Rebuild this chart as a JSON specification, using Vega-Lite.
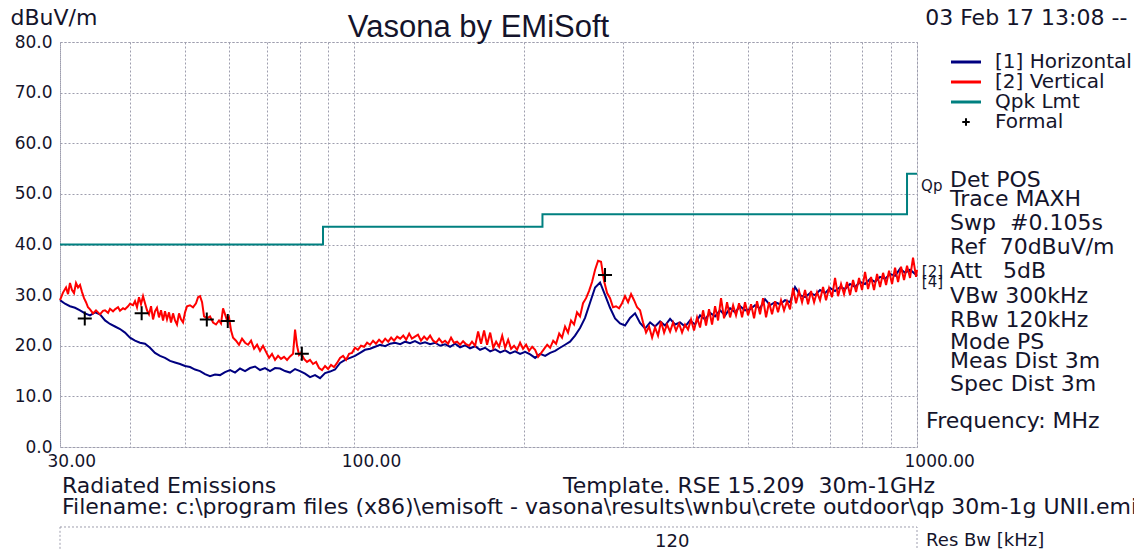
{
"$schema":"https://vega.github.io/schema/vega-lite/v6.json",
"width":857,"height":405,"autosize":"none",
"padding":{"left":60,"top":42,"right":217,"bottom":103},
"background":"white",
"title":{"text":"Vasona by EMiSoft","font":"Liberation Sans","fontSize":31,"fontWeight":"normal","color":"#14142b","anchor":"middle","offset":-38,"dx":-10},
"config":{"view":{"stroke":"#9e9eae","strokeDash":[2,2],"strokeWidth":1}},
"datasets":{
"horiz":[{"f":30.00,"level":29.0},{"f":30.62,"level":28.3},{"f":31.25,"level":27.8},{"f":31.90,"level":27.5},{"f":32.56,"level":27.0},{"f":33.23,"level":26.4},{"f":33.92,"level":26.0},{"f":34.62,"level":26.6},{"f":35.33,"level":26.2},{"f":36.07,"level":25.0},{"f":36.81,"level":24.3},{"f":37.57,"level":23.8},{"f":38.35,"level":23.3},{"f":39.14,"level":22.6},{"f":39.95,"level":21.6},{"f":40.78,"level":21.0},{"f":41.62,"level":20.6},{"f":42.48,"level":20.4},{"f":43.36,"level":19.6},{"f":44.25,"level":18.6},{"f":45.17,"level":18.0},{"f":46.10,"level":17.6},{"f":47.06,"level":17.0},{"f":48.03,"level":16.7},{"f":49.02,"level":16.4},{"f":50.04,"level":16.0},{"f":51.07,"level":15.8},{"f":52.13,"level":15.3},{"f":53.21,"level":15.0},{"f":54.30,"level":14.4},{"f":55.43,"level":14.0},{"f":56.57,"level":14.3},{"f":57.74,"level":14.2},{"f":58.94,"level":14.8},{"f":60.16,"level":15.2},{"f":61.40,"level":14.7},{"f":62.67,"level":15.5},{"f":63.97,"level":15.0},{"f":65.29,"level":15.6},{"f":66.64,"level":15.9},{"f":68.01,"level":15.2},{"f":69.42,"level":15.6},{"f":70.85,"level":15.0},{"f":72.32,"level":15.6},{"f":73.81,"level":15.5},{"f":75.34,"level":15.0},{"f":76.90,"level":14.7},{"f":78.49,"level":15.4},{"f":80.11,"level":15.0},{"f":81.76,"level":14.5},{"f":83.45,"level":13.8},{"f":85.18,"level":14.2},{"f":86.94,"level":13.6},{"f":88.74,"level":14.6},{"f":90.57,"level":14.9},{"f":92.45,"level":15.3},{"f":94.36,"level":16.6},{"f":96.31,"level":17.2},{"f":98.30,"level":17.6},{"f":100.3,"level":18.0},{"f":102.4,"level":18.6},{"f":104.5,"level":19.2},{"f":106.7,"level":19.4},{"f":108.9,"level":19.8},{"f":111.2,"level":20.2},{"f":113.5,"level":19.9},{"f":115.8,"level":20.4},{"f":118.2,"level":20.6},{"f":120.7,"level":20.3},{"f":123.2,"level":20.8},{"f":125.6,"level":20.5},{"f":128.2,"level":20.9},{"f":130.9,"level":20.4},{"f":133.6,"level":20.7},{"f":136.4,"level":20.3},{"f":139.2,"level":20.6},{"f":142.1,"level":20.0},{"f":145.0,"level":20.3},{"f":148.0,"level":19.8},{"f":151.1,"level":20.4},{"f":154.2,"level":19.7},{"f":157.4,"level":20.1},{"f":160.6,"level":19.5},{"f":164.0,"level":19.9},{"f":167.3,"level":19.2},{"f":170.8,"level":19.6},{"f":174.4,"level":18.9},{"f":178.0,"level":19.3},{"f":181.7,"level":18.7},{"f":185.4,"level":19.1},{"f":189.2,"level":18.5},{"f":193.1,"level":18.9},{"f":197.1,"level":18.4},{"f":201.2,"level":18.8},{"f":205.4,"level":18.3},{"f":209.6,"level":17.6},{"f":214.0,"level":18.4},{"f":218.4,"level":18.0},{"f":222.9,"level":18.6},{"f":227.5,"level":19.0},{"f":232.1,"level":19.6},{"f":236.9,"level":20.2},{"f":241.8,"level":20.8},{"f":246.8,"level":22.0},{"f":251.9,"level":23.5},{"f":257.1,"level":25.5},{"f":262.4,"level":28.5},{"f":267.9,"level":31.5},{"f":273.4,"level":32.5},{"f":279.1,"level":30.0},{"f":284.8,"level":27.5},{"f":290.7,"level":25.4},{"f":296.7,"level":24.4},{"f":302.8,"level":24.0},{"f":309.1,"level":25.5},{"f":315.5,"level":26.4},{"f":322.0,"level":24.5},{"f":328.7,"level":23.4},{"f":335.5,"level":24.6},{"f":342.4,"level":23.8},{"f":349.5,"level":24.8},{"f":356.7,"level":24.0},{"f":364.1,"level":25.3},{"f":371.6,"level":24.2},{"f":379.3,"level":24.6},{"f":387.1,"level":23.8},{"f":395.1,"level":25.0},{"f":403.3,"level":24.2},{"f":411.6,"level":26.0},{"f":420.1,"level":25.2},{"f":428.8,"level":26.5},{"f":437.7,"level":25.8},{"f":446.7,"level":27.0},{"f":456.0,"level":26.0},{"f":465.4,"level":27.4},{"f":475.0,"level":26.6},{"f":484.8,"level":27.8},{"f":494.8,"level":27.0},{"f":505.1,"level":27.2},{"f":515.5,"level":28.0},{"f":526.1,"level":27.4},{"f":537.0,"level":29.2},{"f":548.1,"level":28.0},{"f":559.4,"level":28.6},{"f":571.0,"level":28.2},{"f":582.8,"level":29.0},{"f":594.8,"level":28.6},{"f":607.1,"level":31.6},{"f":619.7,"level":30.0},{"f":632.5,"level":29.6},{"f":645.6,"level":30.4},{"f":658.9,"level":30.0},{"f":672.5,"level":31.0},{"f":686.4,"level":30.4},{"f":700.6,"level":31.4},{"f":715.1,"level":30.8},{"f":729.9,"level":31.6},{"f":745.0,"level":31.2},{"f":760.4,"level":32.2},{"f":776.1,"level":31.6},{"f":792.1,"level":32.6},{"f":808.5,"level":32.2},{"f":825.2,"level":33.2},{"f":842.3,"level":32.6},{"f":859.7,"level":33.6},{"f":877.5,"level":33.2},{"f":895.6,"level":34.2},{"f":914.1,"level":33.8},{"f":933.0,"level":35.2},{"f":952.3,"level":34.4},{"f":971.9,"level":35.0},{"f":992.0,"level":34.2},{"f":1000,"level":33.8}],
"vert":[{"f":30.00,"level":29.0},{"f":30.37,"level":30.5},{"f":30.75,"level":31.5},{"f":31.00,"level":30.2},{"f":31.25,"level":32.4},{"f":31.51,"level":31.0},{"f":31.77,"level":30.4},{"f":32.03,"level":32.4},{"f":32.30,"level":31.5},{"f":32.56,"level":32.0},{"f":32.83,"level":30.6},{"f":33.10,"level":29.4},{"f":33.37,"level":28.6},{"f":33.64,"level":27.6},{"f":33.92,"level":27.2},{"f":34.34,"level":26.4},{"f":34.76,"level":27.0},{"f":35.05,"level":26.6},{"f":35.33,"level":26.2},{"f":35.77,"level":26.9},{"f":36.07,"level":27.0},{"f":36.52,"level":26.5},{"f":36.81,"level":27.3},{"f":37.27,"level":26.8},{"f":37.57,"level":27.2},{"f":38.04,"level":27.6},{"f":38.35,"level":26.9},{"f":38.83,"level":27.4},{"f":39.14,"level":27.2},{"f":39.63,"level":27.8},{"f":39.95,"level":28.3},{"f":40.45,"level":28.0},{"f":40.78,"level":28.8},{"f":41.11,"level":27.6},{"f":41.45,"level":29.6},{"f":41.79,"level":28.2},{"f":42.14,"level":29.8},{"f":42.48,"level":28.4},{"f":42.83,"level":27.0},{"f":43.18,"level":26.2},{"f":43.54,"level":27.8},{"f":43.90,"level":25.2},{"f":44.25,"level":26.8},{"f":44.61,"level":27.5},{"f":44.98,"level":25.6},{"f":45.36,"level":27.0},{"f":45.73,"level":25.0},{"f":46.10,"level":26.8},{"f":46.48,"level":25.2},{"f":46.86,"level":26.6},{"f":47.25,"level":24.6},{"f":47.64,"level":26.4},{"f":48.03,"level":25.0},{"f":48.42,"level":24.2},{"f":48.82,"level":26.4},{"f":49.22,"level":25.2},{"f":49.63,"level":24.6},{"f":50.04,"level":26.6},{"f":50.45,"level":27.8},{"f":51.07,"level":28.0},{"f":51.70,"level":27.6},{"f":52.34,"level":28.4},{"f":52.78,"level":29.6},{"f":53.21,"level":29.8},{"f":53.65,"level":28.6},{"f":54.09,"level":25.8},{"f":54.75,"level":25.4},{"f":55.43,"level":25.8},{"f":56.12,"level":24.6},{"f":56.80,"level":24.2},{"f":57.50,"level":25.0},{"f":57.98,"level":24.4},{"f":58.46,"level":27.4},{"f":58.94,"level":26.2},{"f":59.42,"level":25.0},{"f":59.91,"level":25.6},{"f":60.41,"level":23.0},{"f":60.91,"level":21.6},{"f":61.65,"level":21.0},{"f":62.41,"level":20.2},{"f":63.18,"level":21.4},{"f":63.97,"level":20.6},{"f":64.76,"level":20.2},{"f":65.56,"level":21.0},{"f":66.37,"level":19.4},{"f":67.19,"level":20.2},{"f":68.01,"level":19.0},{"f":68.85,"level":20.0},{"f":69.70,"level":18.8},{"f":70.57,"level":17.6},{"f":71.43,"level":18.4},{"f":72.32,"level":17.2},{"f":73.22,"level":18.0},{"f":74.11,"level":17.4},{"f":75.03,"level":17.8},{"f":75.96,"level":17.2},{"f":76.90,"level":17.9},{"f":77.85,"level":18.4},{"f":78.49,"level":23.2},{"f":79.13,"level":20.0},{"f":79.79,"level":18.2},{"f":80.44,"level":18.6},{"f":81.43,"level":17.4},{"f":82.43,"level":16.8},{"f":83.45,"level":17.2},{"f":84.48,"level":16.4},{"f":85.53,"level":16.8},{"f":86.59,"level":15.6},{"f":87.65,"level":15.2},{"f":88.74,"level":16.0},{"f":89.84,"level":15.4},{"f":90.94,"level":16.2},{"f":92.06,"level":15.8},{"f":93.21,"level":16.6},{"f":94.36,"level":17.6},{"f":95.53,"level":18.0},{"f":96.70,"level":17.2},{"f":97.90,"level":18.4},{"f":99.11,"level":18.6},{"f":100.3,"level":19.6},{"f":101.5,"level":19.2},{"f":102.8,"level":20.0},{"f":104.1,"level":19.8},{"f":105.4,"level":20.6},{"f":106.7,"level":20.2},{"f":108.0,"level":21.0},{"f":109.3,"level":20.4},{"f":110.7,"level":21.2},{"f":112.1,"level":20.6},{"f":113.5,"level":21.4},{"f":114.9,"level":20.8},{"f":116.3,"level":21.6},{"f":117.7,"level":21.0},{"f":119.2,"level":21.8},{"f":120.7,"level":21.4},{"f":122.2,"level":22.0},{"f":123.7,"level":21.2},{"f":125.2,"level":22.4},{"f":126.6,"level":21.4},{"f":128.2,"level":21.8},{"f":129.8,"level":22.2},{"f":131.4,"level":21.0},{"f":133.1,"level":21.8},{"f":134.7,"level":21.2},{"f":136.4,"level":22.0},{"f":138.1,"level":21.0},{"f":139.8,"level":20.6},{"f":141.5,"level":21.4},{"f":143.3,"level":20.6},{"f":145.0,"level":21.0},{"f":146.8,"level":20.4},{"f":148.6,"level":21.6},{"f":150.4,"level":20.6},{"f":152.3,"level":20.8},{"f":154.2,"level":20.2},{"f":156.1,"level":20.9},{"f":158.0,"level":20.3},{"f":160.0,"level":20.0},{"f":161.9,"level":20.8},{"f":164.0,"level":20.0},{"f":166.0,"level":22.8},{"f":168.0,"level":20.4},{"f":170.1,"level":23.0},{"f":172.2,"level":20.2},{"f":174.4,"level":22.6},{"f":176.6,"level":19.6},{"f":178.7,"level":20.8},{"f":180.9,"level":19.8},{"f":183.2,"level":22.0},{"f":185.4,"level":19.6},{"f":187.7,"level":21.2},{"f":190.0,"level":19.4},{"f":192.3,"level":20.0},{"f":194.7,"level":19.2},{"f":197.1,"level":20.6},{"f":199.5,"level":19.4},{"f":202.0,"level":20.2},{"f":204.5,"level":19.0},{"f":207.1,"level":19.8},{"f":209.6,"level":19.2},{"f":212.2,"level":17.8},{"f":214.9,"level":18.6},{"f":217.5,"level":19.4},{"f":220.2,"level":20.2},{"f":222.9,"level":19.6},{"f":225.7,"level":21.0},{"f":228.4,"level":20.4},{"f":231.3,"level":22.4},{"f":234.0,"level":21.6},{"f":236.9,"level":23.8},{"f":239.8,"level":22.6},{"f":242.8,"level":25.0},{"f":245.8,"level":24.2},{"f":248.8,"level":26.6},{"f":251.9,"level":25.8},{"f":255.0,"level":28.4},{"f":258.2,"level":29.4},{"f":261.3,"level":30.8},{"f":264.6,"level":32.6},{"f":267.9,"level":35.0},{"f":271.2,"level":36.8},{"f":274.5,"level":36.6},{"f":277.9,"level":32.8},{"f":281.4,"level":30.4},{"f":284.8,"level":29.4},{"f":288.3,"level":27.6},{"f":291.9,"level":27.8},{"f":295.5,"level":27.4},{"f":299.1,"level":28.4},{"f":302.8,"level":29.8},{"f":306.6,"level":28.6},{"f":310.4,"level":30.2},{"f":314.2,"level":29.0},{"f":318.1,"level":27.6},{"f":322.0,"level":27.0},{"f":326.0,"level":24.6},{"f":330.0,"level":22.6},{"f":334.1,"level":23.8},{"f":338.3,"level":21.6},{"f":342.4,"level":23.6},{"f":346.6,"level":22.0},{"f":350.9,"level":24.8},{"f":355.3,"level":22.6},{"f":359.6,"level":24.2},{"f":364.1,"level":22.8},{"f":368.6,"level":24.6},{"f":373.1,"level":23.0},{"f":377.7,"level":24.4},{"f":382.4,"level":22.6},{"f":387.1,"level":24.2},{"f":391.9,"level":23.2},{"f":396.7,"level":25.2},{"f":401.6,"level":23.0},{"f":406.6,"level":25.6},{"f":411.6,"level":23.6},{"f":416.7,"level":27.0},{"f":421.8,"level":24.0},{"f":427.0,"level":27.2},{"f":432.3,"level":24.2},{"f":437.7,"level":27.8},{"f":443.1,"level":25.0},{"f":448.5,"level":29.4},{"f":454.1,"level":25.4},{"f":459.7,"level":28.6},{"f":465.4,"level":25.6},{"f":471.2,"level":28.0},{"f":476.9,"level":26.0},{"f":482.8,"level":28.4},{"f":488.8,"level":25.6},{"f":494.8,"level":28.6},{"f":500.9,"level":26.0},{"f":507.2,"level":28.2},{"f":513.4,"level":25.4},{"f":519.7,"level":28.8},{"f":526.1,"level":26.2},{"f":532.6,"level":29.4},{"f":539.2,"level":25.6},{"f":545.9,"level":28.6},{"f":552.6,"level":26.2},{"f":559.4,"level":28.8},{"f":566.3,"level":26.6},{"f":573.3,"level":29.0},{"f":580.4,"level":27.0},{"f":587.6,"level":28.8},{"f":594.8,"level":27.2},{"f":602.2,"level":31.4},{"f":609.6,"level":28.4},{"f":617.1,"level":30.8},{"f":624.8,"level":28.6},{"f":632.5,"level":31.0},{"f":640.3,"level":28.2},{"f":648.2,"level":30.8},{"f":656.3,"level":28.6},{"f":664.3,"level":30.6},{"f":672.5,"level":29.0},{"f":680.8,"level":31.6},{"f":689.2,"level":29.0},{"f":697.7,"level":31.4},{"f":706.3,"level":29.6},{"f":715.1,"level":33.4},{"f":724.0,"level":29.8},{"f":732.9,"level":32.2},{"f":741.9,"level":30.2},{"f":751.1,"level":32.6},{"f":760.4,"level":30.0},{"f":769.8,"level":33.0},{"f":779.3,"level":30.6},{"f":788.9,"level":33.4},{"f":798.6,"level":31.0},{"f":808.5,"level":34.6},{"f":818.5,"level":31.2},{"f":828.6,"level":33.6},{"f":838.8,"level":31.0},{"f":849.2,"level":34.2},{"f":859.7,"level":31.6},{"f":870.4,"level":34.4},{"f":881.1,"level":32.0},{"f":892.0,"level":34.8},{"f":902.9,"level":32.2},{"f":914.1,"level":35.4},{"f":925.4,"level":32.6},{"f":936.8,"level":35.6},{"f":948.4,"level":33.0},{"f":960.1,"level":35.8},{"f":971.9,"level":33.4},{"f":983.9,"level":37.4},{"f":996.1,"level":33.6},{"f":1000,"level":35.0}],
"limit":[{"f":30,"level":40},{"f":88,"level":43.5},{"f":216,"level":46},{"f":960,"level":54},{"f":1000,"level":54}],
"formal":[{"f":33.2,"level":25.4},{"f":41.9,"level":26.4},{"f":54.7,"level":25.2},{"f":59.6,"level":24.9},{"f":80.7,"level":18.4},{"f":279,"level":34.0}],
"box":[{"f":30,"f2":1000,"level":-15.8,"level2":-22.5}],
"notes":[
{"f":1034,"level":84.7,"text":"03 Feb 17 13:08 --","block":"big"},
{"f":1145,"level":52.7,"text":"Det POS","block":"big"},
{"f":1145,"level":49.0,"text":"Trace MAXH","block":"big"},
{"f":1145,"level":44.2,"text":"Swp\u00a0\u00a0#0.105s","block":"big"},
{"f":1145,"level":39.5,"text":"Ref\u00a0\u00a070dBuV/m","block":"big"},
{"f":1145,"level":34.8,"text":"Att\u00a0\u00a0\u00a05dB","block":"big"},
{"f":1145,"level":29.8,"text":"VBw 300kHz","block":"big"},
{"f":1145,"level":25.1,"text":"RBw 120kHz","block":"big"},
{"f":1145,"level":20.7,"text":"Mode PS","block":"big"},
{"f":1145,"level":17.0,"text":"Meas Dist 3m","block":"big"},
{"f":1145,"level":12.4,"text":"Spec Dist 3m","block":"big"},
{"f":1038,"level":5.1,"text":"Frequency: MHz","block":"big"},
{"f":30.25,"level":-7.7,"text":"Radiated Emissions","block":"big"},
{"f":235,"level":-7.7,"text":"Template. RSE 15.209\u00a0\u00a030m-1GHz","block":"big"},
{"f":30.25,"level":-11.8,"text":"Filename: c:\\program files (x86)\\emisoft - vasona\\results\\wnbu\\crete outdoor\\qp 30m-1g UNII.emi","block":"big"},
{"f":342.4,"level":-18.8,"text":"120","block":"mid"},
{"f":1038,"level":-18.6,"text":"Res Bw [kHz]","block":"mid"},
{"f":1017,"level":51.6,"text":"Qp","block":"small"},
{"f":1020,"level":34.6,"text":"[2]","block":"small"},
{"f":1020,"level":32.6,"text":"[4]","block":"small"}
]
},
"encoding":{
"x":{"field":"f","type":"quantitative","scale":{"type":"log","domain":[30,1000],"nice":false},
"axis":{"title":null,"values":[30,40,50,60,70,80,90,100,200,300,400,500,600,700,800,900,1000],"labelExpr":"datum.value == 30 || datum.value == 100 || datum.value == 1000 ? format(datum.value, '.2f') : ''","labelAlign":"left","labelOffset":-13,"labelFlush":false,"labelOverlap":false,"labelFont":"DejaVu Sans","labelFontSize":17,"labelColor":"#14142b","labelPadding":6,"ticks":false,"domain":false,"grid":true,"gridColor":"#9e9eae","gridDash":[2,2],"gridWidth":1}},
"y":{"field":"level","type":"quantitative","scale":{"domain":[0,80],"nice":false,"zero":false},
"axis":{"title":"dBuV/m","titleAngle":0,"titleAlign":"left","titleBaseline":"middle","titleX":-50,"titleY":-25,"titleFont":"DejaVu Sans","titleFontSize":22,"titleFontWeight":"normal","titleColor":"#14142b","values":[0,10,20,30,40,50,60,70,80],"format":".1f","labelFlush":false,"labelFont":"DejaVu Sans","labelFontSize":17,"labelColor":"#14142b","labelPadding":8,"ticks":false,"domain":false,"grid":true,"gridColor":"#9e9eae","gridDash":[2,2],"gridWidth":1}}
},
"layer":[
{"data":{"name":"box"},"mark":{"type":"rect","filled":false,"stroke":"#9e9eae","strokeDash":[2,2],"strokeWidth":1},"encoding":{"x2":{"field":"f2"},"y2":{"field":"level2"}}},
{"data":{"name":"horiz"},"mark":{"type":"line","strokeWidth":2},
"encoding":{"color":{"datum":"[1] Horizontal","type":"nominal","scale":{"domain":["[1] Horizontal","[2] Vertical","Qpk Lmt","Formal"],"range":["#000080","#ff0000","#008080","#000000"]},
"legend":{"orient":"none","legendX":896,"legendY":10,"title":null,"padding":0,"symbolType":"stroke","symbolSize":900,"symbolStrokeWidth":3,"labelFont":"DejaVu Sans","labelFontSize":20,"labelColor":"#14142b","labelOffset":19,"labelLimit":500,"rowPadding":0,
"encode":{"symbols":{"update":{"shape":{"signal":"datum.value === 'Formal' ? 'M-0.25,0L0.25,0M0,-0.25L0,0.25' : 'stroke'"},"strokeWidth":{"signal":"datum.value === 'Formal' ? 2 : 3"}}}}}}}},
{"data":{"name":"vert"},"mark":{"type":"line","strokeWidth":2},"encoding":{"color":{"datum":"[2] Vertical","type":"nominal"}}},
{"data":{"name":"limit"},"mark":{"type":"line","interpolate":"step-after","strokeWidth":2},"encoding":{"color":{"datum":"Qpk Lmt","type":"nominal"}}},
{"data":{"name":"formal"},"mark":{"type":"point","shape":"M-1,0L1,0M0,-1L0,1","filled":false,"strokeWidth":2,"size":196,"opacity":1},"encoding":{"color":{"datum":"Formal","type":"nominal"}}},
{"data":{"name":"notes"},"transform":[{"filter":"datum.block === 'big'"}],"mark":{"type":"text","align":"left","baseline":"middle","font":"DejaVu Sans","fontSize":22,"color":"#14142b"},"encoding":{"text":{"field":"text"}}},
{"data":{"name":"notes"},"transform":[{"filter":"datum.block === 'mid'"}],"mark":{"type":"text","align":"left","baseline":"middle","font":"DejaVu Sans","fontSize":18,"color":"#14142b"},"encoding":{"text":{"field":"text"}}},
{"data":{"name":"notes"},"transform":[{"filter":"datum.block === 'small'"}],"mark":{"type":"text","align":"left","baseline":"middle","font":"DejaVu Sans","fontSize":15,"color":"#14142b"},"encoding":{"text":{"field":"text"}}}
]
}
